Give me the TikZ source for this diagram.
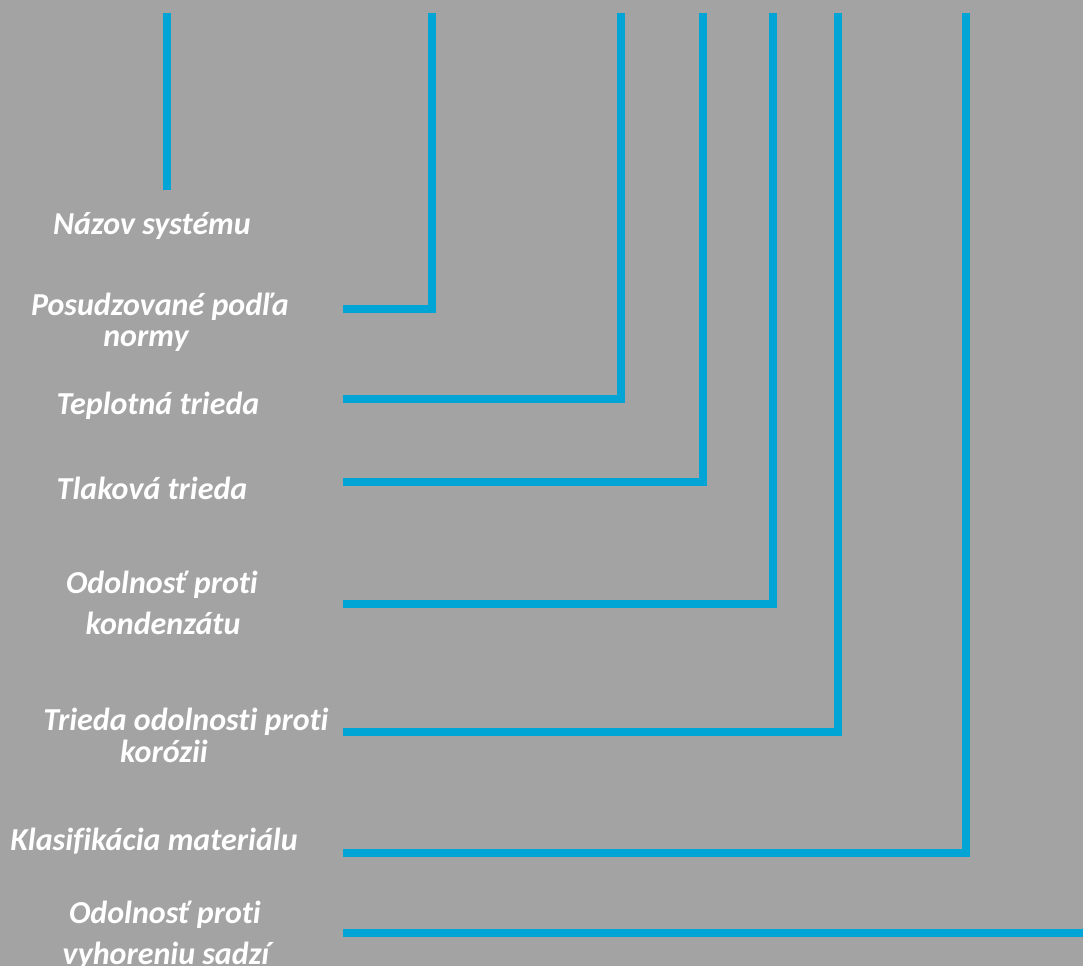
\documentclass[tikz,border=0pt]{standalone}
\usepackage{fontspec}
\setmainfont[Ligatures=NoCommon]{Carlito}
\definecolor{bggray}{HTML}{A3A3A3}
\definecolor{lineblue}{HTML}{00A5D6}
\begin{document}
\begin{tikzpicture}[x=1pt,y=-1pt,
  lbl/.style={anchor=base,text=white,font=\fontsize{32}{36}\selectfont\bfseries\itshape,inner sep=0pt},
  conn/.style={draw=lineblue,line width=7.5pt,line join=miter,line cap=butt}]
\fill[bggray] (0,0) rectangle (1083,966);
\useasboundingbox (0,0) rectangle (1083,966);
% labels
\node[lbl] (l1) at (152,234) {Názov systému};
\node[lbl] (l2a) at (160,315) {Posudzované podľa};
\node[lbl] (l2b) at (146,346) {normy};
\node[lbl] (l3) at (158,414) {Teplotná trieda};
\node[lbl] (l4) at (152,499) {Tlaková trieda};
\node[lbl] (l5a) at (162,593) {Odolnosť proti};
\node[lbl] (l5b) at (163,634) {kondenzátu};
\node[lbl] (l6a) at (186,730) {Trieda odolnosti proti};
\node[lbl] (l6b) at (164,762) {korózii};
\node[lbl] (l7) at (154,850) {Klasifikácia materiálu};
\node[lbl] (l8a) at (165,923) {Odolnosť proti};
\node[lbl] (l8b) at (166,964) {vyhoreniu sadzí};
% connector points
\coordinate (t1) at (167,13);
\coordinate (b1) at (167,190);
\coordinate (s2) at (343,309);
\coordinate (t2) at (432,13);
\coordinate (s3) at (343,399);
\coordinate (t3) at (621,13);
\coordinate (s4) at (343,482);
\coordinate (t4) at (703,13);
\coordinate (s5) at (343,604);
\coordinate (t5) at (773,13);
\coordinate (s6) at (343,732);
\coordinate (t6) at (838,13);
\coordinate (s7) at (343,853);
\coordinate (t7) at (966,13);
\coordinate (s8) at (343,933);
\coordinate (e8) at (1083,933);
% connectors
\draw[conn] (b1) -- (t1);
\draw[conn] (s2) -| (t2);
\draw[conn] (s3) -| (t3);
\draw[conn] (s4) -| (t4);
\draw[conn] (s5) -| (t5);
\draw[conn] (s6) -| (t6);
\draw[conn] (s7) -| (t7);
\draw[conn] (s8) -- (e8);
\end{tikzpicture}
\end{document}
